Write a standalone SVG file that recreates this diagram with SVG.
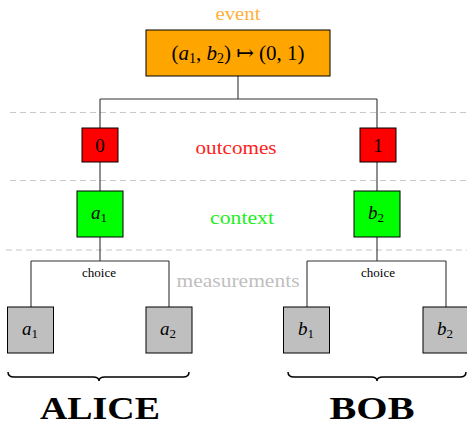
<svg xmlns="http://www.w3.org/2000/svg" width="467" height="425" viewBox="0 0 467 425">
<style>
text{font-family:"Liberation Serif","DejaVu Serif",serif;text-anchor:middle}
.box{stroke:#000;stroke-width:1}
.ln{stroke:#333;stroke-width:1.1;fill:none}
.dash{stroke:#c8c8c8;stroke-width:1.2;stroke-dasharray:6,4}
.brace{stroke:#000;stroke-width:1.5;fill:none}
.lbl{font-size:19px}
.sub{font-size:13px}
.m{font-style:italic}
.cap{font-size:18px}
.big{font-size:31px;font-weight:bold}
</style>
<rect width="467" height="425" fill="#fff"/>
<g id="layers">
<line class="dash" x1="10" y1="112.5" x2="467" y2="112.5"/>
<line class="dash" x1="10" y1="180.5" x2="467" y2="180.5"/>
<line class="dash" x1="6" y1="250" x2="467" y2="250"/>
<text x="238" y="20" class="cap" fill="#FFB03B" textLength="45" lengthAdjust="spacingAndGlyphs">event</text>
<text x="236" y="154" class="cap" fill="#FF2020" textLength="81" lengthAdjust="spacingAndGlyphs">outcomes</text>
<text x="242" y="224" class="cap" fill="#22EE22" textLength="64" lengthAdjust="spacingAndGlyphs">context</text>
<text x="238" y="287" class="cap" fill="#BFBFBF" textLength="123" lengthAdjust="spacingAndGlyphs">measurements</text>
</g>
<g id="connectors">
<path class="ln" d="M238 76V99M100 99H377M100 99V128M377 99V128M100 162V191M377 162V191M100 237V261M377 237V261M31 261H169M31 261V307M169 261V307M307 261H446M307 261V307M446 261V307"/>
</g>
<g id="event">
<rect class="box" x="146" y="30" width="184" height="46" fill="#FFA500"/>
<text x="238" y="60" font-size="21">(<tspan class="m">a</tspan><tspan font-size="14" dy="3">1</tspan><tspan dy="-3">, </tspan><tspan class="m">b</tspan><tspan font-size="14" dy="3">2</tspan><tspan dy="-3">) ↦ (0, 1)</tspan></text>
</g>
<g id="out0"><rect class="box" x="82" y="128" width="36" height="34" fill="#FF0000"/><text x="100" y="152" class="lbl">0</text></g>
<g id="out1"><rect class="box" x="360" y="128" width="36" height="34" fill="#FF0000"/><text x="378" y="152" class="lbl">1</text></g>
<g id="ctxA"><rect class="box" x="77" y="191" width="46" height="46" fill="#00FF00"/><text x="99" y="219" class="lbl"><tspan class="m">a</tspan><tspan class="sub" dy="3">1</tspan></text></g>
<g id="ctxB"><rect class="box" x="354" y="191" width="46" height="46" fill="#00FF00"/><text x="376" y="219" class="lbl"><tspan class="m">b</tspan><tspan class="sub" dy="3">2</tspan></text></g>
<g id="choiceA"><text x="99" y="277" font-size="13">choice</text></g>
<g id="choiceB"><text x="378" y="277" font-size="13">choice</text></g>
<g id="mA1"><rect class="box" x="7.5" y="307" width="46" height="46" fill="#BFBFBF"/><text x="30" y="335" class="lbl"><tspan class="m">a</tspan><tspan class="sub" dy="3">1</tspan></text></g>
<g id="mA2"><rect class="box" x="146" y="307" width="46" height="46" fill="#BFBFBF"/><text x="168" y="335" class="lbl"><tspan class="m">a</tspan><tspan class="sub" dy="3">2</tspan></text></g>
<g id="mB1"><rect class="box" x="283.5" y="307" width="46" height="46" fill="#BFBFBF"/><text x="306" y="335" class="lbl"><tspan class="m">b</tspan><tspan class="sub" dy="3">1</tspan></text></g>
<g id="mB2"><rect class="box" x="423" y="307" width="46" height="46" fill="#BFBFBF"/><text x="445" y="335" class="lbl"><tspan class="m">b</tspan><tspan class="sub" dy="3">2</tspan></text></g>
<g id="alice">
<path class="brace" d="M8 372Q8 377 14 377L93 377Q99 377 99 381Q99 377 105 377L183 377Q189 377 189 372"/>
<text x="100" y="419" class="big" textLength="120" lengthAdjust="spacingAndGlyphs">ALICE</text>
</g>
<g id="bob">
<path class="brace" d="M288 372Q288 377 294 377L371 377Q377 377 377 381Q377 377 383 377L460 377Q466 377 466 372"/>
<text x="372" y="419" class="big" textLength="85" lengthAdjust="spacingAndGlyphs">BOB</text>
</g>
</svg>
